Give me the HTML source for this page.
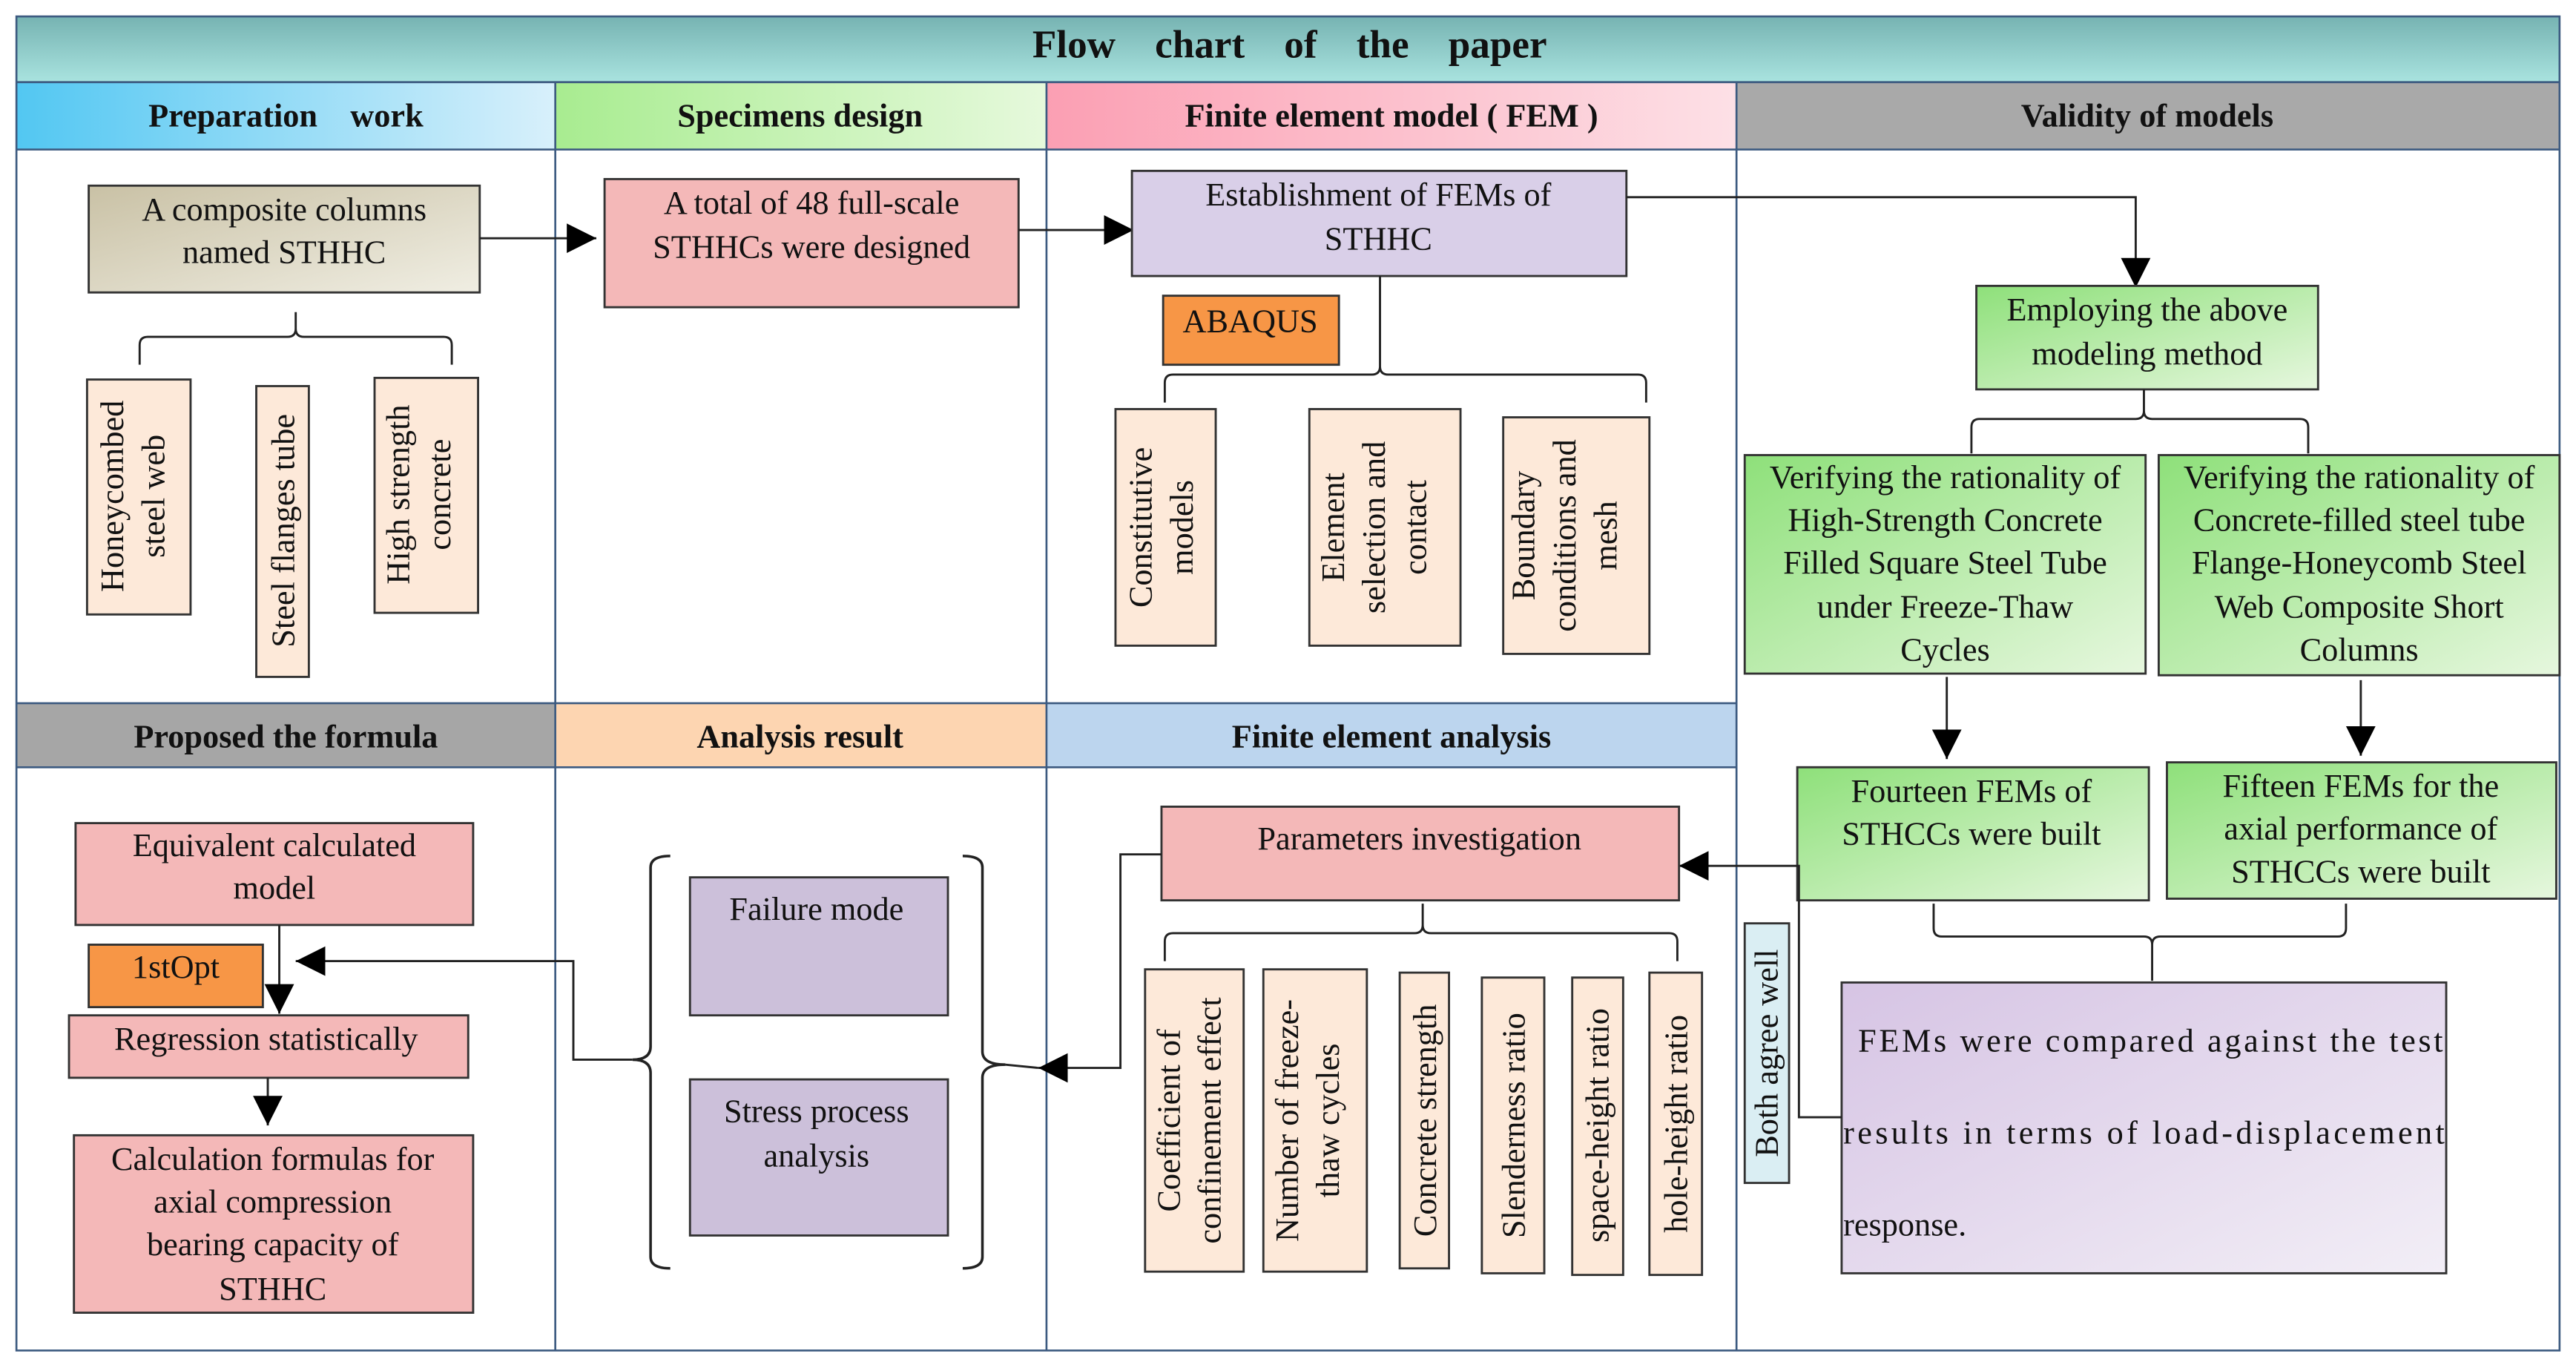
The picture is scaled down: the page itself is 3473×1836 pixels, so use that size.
<!DOCTYPE html>
<html><head><meta charset="utf-8"><style>
html,body{margin:0;padding:0;background:#fff}
svg{display:block}
text{font-family:"Liberation Serif",serif;fill:#111}
.h{font-weight:bold;font-size:20px}
.t{font-size:20px}
.v{font-size:20px}
.box{stroke:#333;stroke-width:1.3}
.ln{stroke:#222;stroke-width:1.3;fill:none}
.grid{stroke:#3c5a80;stroke-width:1.2;fill:none}
</style></head><body>
<svg width="3473" height="1836" viewBox="0 0 1568 829" preserveAspectRatio="none" xmlns="http://www.w3.org/2000/svg">
<defs>
<marker id="a" viewBox="0 0 10 10" refX="10" refY="5" markerWidth="18" markerHeight="18" markerUnits="userSpaceOnUse" orient="auto"><path d="M0,0 L10,5 L0,10 z" fill="#000"/></marker>
<linearGradient id="gt" x1="0" y1="0" x2="0" y2="1"><stop offset="0" stop-color="#76b3b2"/><stop offset="1" stop-color="#a9e3df"/></linearGradient>
<linearGradient id="gb" x1="0" y1="0" x2="1" y2="0"><stop offset="0" stop-color="#52c7f2"/><stop offset="1" stop-color="#d8f0fb"/></linearGradient>
<linearGradient id="gg" x1="0" y1="0" x2="1" y2="0"><stop offset="0" stop-color="#a8ec90"/><stop offset="1" stop-color="#e6f9dc"/></linearGradient>
<linearGradient id="gp" x1="0" y1="0" x2="1" y2="0"><stop offset="0" stop-color="#fb9fb3"/><stop offset="1" stop-color="#fde0e6"/></linearGradient>
<linearGradient id="gtan" x1="0" y1="0" x2="1" y2="1"><stop offset="0" stop-color="#c9c1a5"/><stop offset="1" stop-color="#f0eee3"/></linearGradient>
<linearGradient id="ggreen" x1="0" y1="0" x2="1" y2="1"><stop offset="0" stop-color="#8ee07a"/><stop offset="1" stop-color="#e6f7de"/></linearGradient>
<linearGradient id="glav" x1="0" y1="0" x2="1" y2="1"><stop offset="0" stop-color="#d6c4e4"/><stop offset="1" stop-color="#f2eef6"/></linearGradient>
</defs>
<rect x="0" y="0" width="1568" height="829" fill="#fff"/>
<rect x="10" y="10" width="1548" height="40" fill="url(#gt)"/>
<text x="785" y="35" class="h" text-anchor="middle" style="font-size:24px" xml:space="preserve">Flow    chart    of    the    paper</text>
<rect x="10" y="50" width="328" height="41" fill="url(#gb)"/>
<rect x="338" y="50" width="299" height="41" fill="url(#gg)"/>
<rect x="637" y="50" width="420" height="41" fill="url(#gp)"/>
<rect x="1057" y="50" width="501" height="41" fill="#a9a9a9"/>
<text x="174" y="77" class="h" text-anchor="middle" xml:space="preserve">Preparation    work</text>
<text x="487" y="77" class="h" text-anchor="middle">Specimens design</text>
<text x="847" y="77" class="h" text-anchor="middle">Finite element model ( FEM )</text>
<text x="1307" y="77" class="h" text-anchor="middle">Validity of models</text>
<rect x="10" y="428" width="328" height="39" fill="#a6a6a6"/>
<rect x="338" y="428" width="299" height="39" fill="#fdd5b1"/>
<rect x="637" y="428" width="420" height="39" fill="#bcd5ee"/>
<text x="174" y="455" class="h" text-anchor="middle">Proposed the formula</text>
<text x="487" y="455" class="h" text-anchor="middle">Analysis result</text>
<text x="847" y="455" class="h" text-anchor="middle">Finite element analysis</text>
<rect x="10" y="10" width="1548" height="812" class="grid"/>
<line x1="10" y1="50" x2="1558" y2="50" class="grid"/>
<line x1="10" y1="91" x2="1558" y2="91" class="grid"/>
<line x1="10" y1="428" x2="1057" y2="428" class="grid"/>
<line x1="10" y1="467" x2="1057" y2="467" class="grid"/>
<line x1="338" y1="50" x2="338" y2="822" class="grid"/>
<line x1="637" y1="50" x2="637" y2="822" class="grid"/>
<line x1="1057" y1="50" x2="1057" y2="822" class="grid"/>

<rect x="54" y="113" width="238" height="65" fill="url(#gtan)" class="box"/>
<text x="173" y="134" class="t" text-anchor="middle">A composite columns</text>
<text x="173" y="160" class="t" text-anchor="middle">named STHHC</text>
<line x1="292" y1="145" x2="363" y2="145" class="ln" marker-end="url(#a)"/>
<path d="M180,190 V200 Q180,205 175,205 H90 Q85,205 85,210 V222 M180,200 Q180,205 185,205 H270 Q275,205 275,210 V222" class="ln"/>
<rect x="53" y="231" width="63" height="143" fill="#fde9d9" class="box"/>
<rect x="156" y="235" width="32" height="177" fill="#fde9d9" class="box"/>
<rect x="228" y="230" width="63" height="143" fill="#fde9d9" class="box"/>
<text transform="translate(75,302) rotate(-90)" class="v" text-anchor="middle">Honeycombed</text>
<text transform="translate(100,302) rotate(-90)" class="v" text-anchor="middle">steel web</text>
<text transform="translate(179,323) rotate(-90)" class="v" text-anchor="middle">Steel flanges tube</text>
<text transform="translate(249,301) rotate(-90)" class="v" text-anchor="middle">High strength</text>
<text transform="translate(274,301) rotate(-90)" class="v" text-anchor="middle">concrete</text>

<rect x="368" y="109" width="252" height="78" fill="#f4b8b8" class="box"/>
<text x="494" y="130" class="t" text-anchor="middle">A total of 48 full-scale</text>
<text x="494" y="157" class="t" text-anchor="middle">STHHCs were designed</text>
<line x1="620" y1="140" x2="690" y2="140" class="ln" marker-end="url(#a)"/>

<rect x="689" y="104" width="301" height="64" fill="#d9cfe8" class="box"/>
<text x="839" y="125" class="t" text-anchor="middle">Establishment of FEMs of</text>
<text x="839" y="152" class="t" text-anchor="middle">STHHC</text>
<path d="M990,120 H1300 V175" class="ln" marker-end="url(#a)"/>
<rect x="708" y="180" width="107" height="42" fill="#f79646" class="box"/>
<text x="761" y="202" class="t" text-anchor="middle">ABAQUS</text>
<path d="M840,168 V223 Q840,228 835,228 H714 Q709,228 709,233 V245 M840,223 Q840,228 845,228 H997 Q1002,228 1002,233 V245" class="ln"/>
<rect x="679" y="249" width="61" height="144" fill="#fde9d9" class="box"/>
<rect x="797" y="249" width="92" height="144" fill="#fde9d9" class="box"/>
<rect x="915" y="254" width="89" height="144" fill="#fde9d9" class="box"/>
<text transform="translate(701,321) rotate(-90)" class="v" text-anchor="middle">Constitutive</text>
<text transform="translate(726,321) rotate(-90)" class="v" text-anchor="middle">models</text>
<text transform="translate(818,321) rotate(-90)" class="v" text-anchor="middle">Element</text>
<text transform="translate(843,321) rotate(-90)" class="v" text-anchor="middle">selection and</text>
<text transform="translate(868,321) rotate(-90)" class="v" text-anchor="middle">contact</text>
<text transform="translate(934,326) rotate(-90)" class="v" text-anchor="middle">Boundary</text>
<text transform="translate(959,326) rotate(-90)" class="v" text-anchor="middle">conditions and</text>
<text transform="translate(984,326) rotate(-90)" class="v" text-anchor="middle">mesh</text>

<rect x="1203" y="174" width="208" height="63" fill="url(#ggreen)" class="box"/>
<text x="1307" y="195" class="t" text-anchor="middle">Employing the above</text>
<text x="1307" y="222" class="t" text-anchor="middle">modeling method</text>
<path d="M1305,237 V250 Q1305,255 1300,255 H1205 Q1200,255 1200,260 V276 M1305,250 Q1305,255 1310,255 H1400 Q1405,255 1405,260 V276" class="ln"/>
<rect x="1062" y="277" width="244" height="133" fill="url(#ggreen)" class="box"/>
<rect x="1314" y="277" width="244" height="134" fill="url(#ggreen)" class="box"/>
<text x="1184" y="297" class="t" text-anchor="middle">Verifying the rationality of</text>
<text x="1184" y="323" class="t" text-anchor="middle">High-Strength Concrete</text>
<text x="1184" y="349" class="t" text-anchor="middle">Filled Square Steel Tube</text>
<text x="1184" y="376" class="t" text-anchor="middle">under Freeze-Thaw</text>
<text x="1184" y="402" class="t" text-anchor="middle">Cycles</text>
<text x="1436" y="297" class="t" text-anchor="middle">Verifying the rationality of</text>
<text x="1436" y="323" class="t" text-anchor="middle">Concrete-filled steel tube</text>
<text x="1436" y="349" class="t" text-anchor="middle">Flange-Honeycomb Steel</text>
<text x="1436" y="376" class="t" text-anchor="middle">Web Composite Short</text>
<text x="1436" y="402" class="t" text-anchor="middle">Columns</text>
<line x1="1185" y1="412" x2="1185" y2="462" class="ln" marker-end="url(#a)"/>
<line x1="1437" y1="414" x2="1437" y2="460" class="ln" marker-end="url(#a)"/>
<rect x="1094" y="467" width="214" height="81" fill="url(#ggreen)" class="box"/>
<rect x="1319" y="464" width="237" height="83" fill="url(#ggreen)" class="box"/>
<text x="1200" y="488" class="t" text-anchor="middle">Fourteen FEMs of</text>
<text x="1200" y="514" class="t" text-anchor="middle">STHCCs were built</text>
<text x="1437" y="485" class="t" text-anchor="middle">Fifteen FEMs for the</text>
<text x="1437" y="511" class="t" text-anchor="middle">axial performance of</text>
<text x="1437" y="537" class="t" text-anchor="middle">STHCCs were built</text>
<path d="M1177,550 V565 Q1177,570 1182,570 H1305 Q1310,570 1310,575 V597 M1310,575 Q1310,570 1315,570 H1423 Q1428,570 1428,565 V550" class="ln"/>
<rect x="1121" y="598" width="368" height="177" fill="url(#glav)" class="box"/>
<text x="1131" y="640" class="t" textLength="356" lengthAdjust="spacing">FEMs were compared against the test</text>
<text x="1122" y="696" class="t" textLength="366" lengthAdjust="spacing">results in terms of load-displacement</text>
<text x="1122" y="752" class="t">response.</text>
<rect x="1062" y="562" width="27" height="158" fill="#daeef3" class="box"/>
<text transform="translate(1082,641) rotate(-90)" class="v" text-anchor="middle">Both agree well</text>
<path d="M1121,680 H1095 V527 H1022" class="ln" marker-end="url(#a)"/>

<rect x="707" y="491" width="315" height="57" fill="#f4b8b8" class="box"/>
<text x="864" y="517" class="t" text-anchor="middle">Parameters investigation</text>
<path d="M866,550 V563 Q866,568 861,568 H714 Q709,568 709,573 V585 M866,563 Q866,568 871,568 H1016 Q1021,568 1021,573 V585" class="ln"/>
<rect x="697" y="590" width="60" height="184" fill="#fde9d9" class="box"/>
<rect x="769" y="590" width="63" height="184" fill="#fde9d9" class="box"/>
<rect x="852" y="592" width="30" height="180" fill="#fde9d9" class="box"/>
<rect x="902" y="595" width="38" height="180" fill="#fde9d9" class="box"/>
<rect x="957" y="595" width="31" height="181" fill="#fde9d9" class="box"/>
<rect x="1004" y="592" width="32" height="184" fill="#fde9d9" class="box"/>
<text transform="translate(718,682) rotate(-90)" class="v" text-anchor="middle">Coefficient of</text>
<text transform="translate(743,682) rotate(-90)" class="v" text-anchor="middle">confinement effect</text>
<text transform="translate(790,682) rotate(-90)" class="v" text-anchor="middle">Number of freeze-</text>
<text transform="translate(815,682) rotate(-90)" class="v" text-anchor="middle">thaw cycles</text>
<text transform="translate(874,682) rotate(-90)" class="v" text-anchor="middle">Concrete strength</text>
<text transform="translate(928,685) rotate(-90)" class="v" text-anchor="middle">Slenderness ratio</text>
<text transform="translate(979,685) rotate(-90)" class="v" text-anchor="middle">space-height ratio</text>
<text transform="translate(1027,684) rotate(-90)" class="v" text-anchor="middle">hole-height ratio</text>
<path d="M707,520 H682 V650 H632" class="ln" marker-end="url(#a)"/>

<path d="M408,521 Q396,521 396,528 V637 Q396,645 385,645 Q396,645 396,653 V765 Q396,772 408,772" class="ln" style="stroke-width:1.6"/>
<path d="M586,521 Q598,521 598,528 V640 Q598,648 612,648 Q598,648 598,656 V765 Q598,772 586,772" class="ln" style="stroke-width:1.6"/>
<line x1="612" y1="648" x2="632" y2="650" class="ln"/>
<rect x="420" y="534" width="157" height="84" fill="#ccc0da" class="box"/>
<rect x="420" y="657" width="157" height="95" fill="#ccc0da" class="box"/>
<text x="497" y="560" class="t" text-anchor="middle">Failure mode</text>
<text x="497" y="683" class="t" text-anchor="middle">Stress process</text>
<text x="497" y="710" class="t" text-anchor="middle">analysis</text>
<path d="M385,645 H349 V585 H180" class="ln" marker-end="url(#a)"/>

<rect x="46" y="501" width="242" height="62" fill="#f4b8b8" class="box"/>
<text x="167" y="521" class="t" text-anchor="middle">Equivalent calculated</text>
<text x="167" y="547" class="t" text-anchor="middle">model</text>
<rect x="54" y="575" width="106" height="38" fill="#f79646" class="box"/>
<text x="107" y="595" class="t" text-anchor="middle">1stOpt</text>
<line x1="170" y1="563" x2="170" y2="617" class="ln" marker-end="url(#a)"/>
<rect x="42" y="618" width="243" height="38" fill="#f4b8b8" class="box"/>
<text x="162" y="639" class="t" text-anchor="middle">Regression statistically</text>
<line x1="163" y1="656" x2="163" y2="685" class="ln" marker-end="url(#a)"/>
<rect x="45" y="691" width="243" height="108" fill="#f4b8b8" class="box"/>
<text x="166" y="712" class="t" text-anchor="middle">Calculation formulas for</text>
<text x="166" y="738" class="t" text-anchor="middle">axial compression</text>
<text x="166" y="764" class="t" text-anchor="middle">bearing capacity of</text>
<text x="166" y="791" class="t" text-anchor="middle">STHHC</text>
</svg>
</body></html>
